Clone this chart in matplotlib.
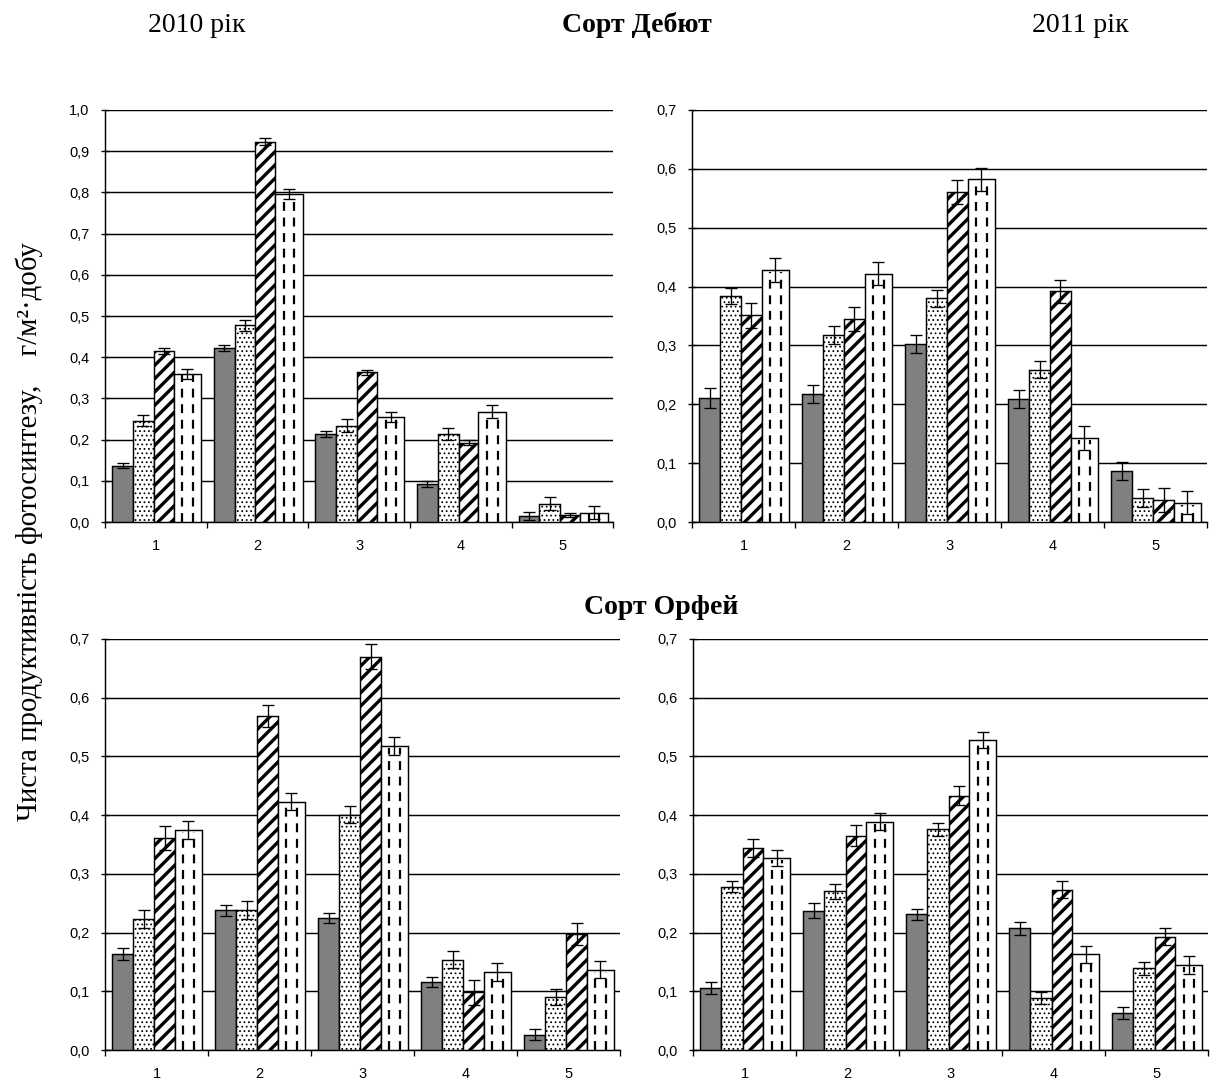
import matplotlib
matplotlib.use("Agg")
import matplotlib.pyplot as plt
import numpy as np
from matplotlib.ticker import FuncFormatter, FixedLocator

# Чиста продуктивність фотосинтезу, г/м2·добу (5 періодів, 4 варіанти)
groups = ["1", "2", "3", "4", "5"]

# Сорт Дебют, 2010 рік
deb_2010 = [
    [0.137, 0.423, 0.213, 0.092, 0.015],
    [0.246, 0.477, 0.234, 0.213, 0.044],
    [0.416, 0.923, 0.364, 0.193, 0.017],
    [0.360, 0.796, 0.255, 0.268, 0.023],
]
deb_2010_err = [
    [0.007, 0.007, 0.007, 0.007, 0.010],
    [0.014, 0.013, 0.015, 0.015, 0.016],
    [0.007, 0.008, 0.006, 0.005, 0.005],
    [0.012, 0.012, 0.012, 0.015, 0.015],
]

# Сорт Дебют, 2011 рік
deb_2011 = [
    [0.211, 0.217, 0.303, 0.209, 0.087],
    [0.384, 0.318, 0.380, 0.259, 0.041],
    [0.351, 0.345, 0.561, 0.392, 0.037],
    [0.428, 0.422, 0.582, 0.143, 0.033],
]
deb_2011_err = [
    [0.017, 0.015, 0.015, 0.015, 0.015],
    [0.014, 0.015, 0.015, 0.015, 0.015],
    [0.021, 0.020, 0.020, 0.020, 0.020],
    [0.020, 0.020, 0.020, 0.020, 0.020],
]

# Сорт Орфей, 2010 рік
orf_2010 = [
    [0.164, 0.238, 0.225, 0.116, 0.026],
    [0.223, 0.238, 0.401, 0.154, 0.090],
    [0.361, 0.569, 0.670, 0.098, 0.198],
    [0.375, 0.423, 0.518, 0.133, 0.137],
]
orf_2010_err = [
    [0.010, 0.009, 0.008, 0.008, 0.009],
    [0.016, 0.015, 0.015, 0.014, 0.014],
    [0.020, 0.019, 0.021, 0.021, 0.019],
    [0.015, 0.015, 0.015, 0.015, 0.015],
]

# Сорт Орфей, 2011 рік
orf_2011 = [
    [0.106, 0.237, 0.231, 0.207, 0.063],
    [0.278, 0.270, 0.376, 0.089, 0.139],
    [0.344, 0.365, 0.433, 0.273, 0.193],
    [0.327, 0.389, 0.528, 0.163, 0.145],
]
orf_2011_err = [
    [0.010, 0.013, 0.010, 0.011, 0.010],
    [0.009, 0.012, 0.011, 0.010, 0.011],
    [0.015, 0.018, 0.016, 0.014, 0.014],
    [0.014, 0.014, 0.014, 0.015, 0.015],
]

# зміщення лівого краю та ширина стовпчиків усередині групи
offsets = [0.07, 0.275, 0.48, 0.675]
widths = [0.205, 0.205, 0.195, 0.27]

comma = FuncFormatter(lambda v, _: f"{v:.1f}".replace(".", ","))


def draw_panel(ax, values, errors, ymax):
    x0 = np.arange(len(groups)) - 0.5
    for i, (vals, errs) in enumerate(zip(values, errors)):
        left = x0 + offsets[i]
        w = widths[i]
        centers = left + w / 2
        if i == 0:
            ax.bar(left, vals, w, align="edge", color="#808080",
                   edgecolor="black", linewidth=1.3, zorder=3)
        elif i == 1:
            with plt.rc_context({"hatch.linewidth": 0.9}):
                ax.bar(left, vals, w, align="edge", color="white",
                       edgecolor="black", linewidth=1.3, hatch="...", zorder=3)
        elif i == 2:
            with plt.rc_context({"hatch.linewidth": 3.0}):
                ax.bar(left, vals, w, align="edge", color="white",
                       edgecolor="black", linewidth=1.3, hatch="//", zorder=3)
        else:
            ax.bar(left, vals, w, align="edge", color="white",
                   edgecolor="black", linewidth=1.3, zorder=3)
            # вертикальні штрихи всередині стовпчиків
            for frac in (0.32, 0.70):
                ax.vlines(left + w * frac, 0, np.array(vals) - 0.004,
                          colors="black", linewidth=2.0,
                          linestyles=(0, (4, 3)), zorder=4)
        ax.errorbar(centers, vals, yerr=errs, fmt="none", ecolor="black",
                    elinewidth=1.2, capsize=5, capthick=1.2, zorder=5)

    ax.set_xlim(-0.5, len(groups) - 0.5)
    ax.set_ylim(0, ymax)
    ax.set_yticks(np.arange(0, ymax + 0.001, 0.1))
    ax.yaxis.set_major_formatter(comma)
    ax.yaxis.grid(True, color="black", linewidth=1.3, zorder=0)
    ax.set_axisbelow(True)

    # мітки між групами, підписи по центру груп
    ax.xaxis.set_major_locator(FixedLocator(x0.tolist() + [len(groups) - 0.5]))
    ax.xaxis.set_major_formatter(FuncFormatter(lambda v, _: ""))
    ax.set_xticks(np.arange(len(groups)), minor=True)
    ax.set_xticklabels(groups, minor=True)
    ax.tick_params(axis="x", which="major", direction="out", length=5,
                   width=1.2)
    ax.tick_params(axis="x", which="minor", length=0, pad=15, labelsize=13)
    ax.tick_params(axis="y", direction="inout", length=8, width=1.2, pad=10,
                   labelsize=13)

    for side in ("top", "right"):
        ax.spines[side].set_visible(False)
    for side in ("left", "bottom"):
        ax.spines[side].set_linewidth(1.3)


plt.rcParams["font.family"] = ["Liberation Sans", "DejaVu Sans"]

fig = plt.figure(figsize=(1217 / 80, 1088 / 80), dpi=80)

ax1 = fig.add_axes([0.0863, 0.5202, 0.4175, 0.3787])
ax2 = fig.add_axes([0.5686, 0.5202, 0.4232, 0.3787])
ax3 = fig.add_axes([0.0863, 0.0349, 0.4232, 0.3778])
ax4 = fig.add_axes([0.5695, 0.0349, 0.4232, 0.3778])

draw_panel(ax1, deb_2010, deb_2010_err, 1.0)
draw_panel(ax2, deb_2011, deb_2011_err, 0.7)
draw_panel(ax3, orf_2010, orf_2010_err, 0.7)
draw_panel(ax4, orf_2011, orf_2011_err, 0.7)

serif = ["Liberation Serif", "DejaVu Serif"]
fig.text(0.162, 0.977, "2010 рік", ha="center", va="center",
         fontsize=25, family=serif)
fig.text(0.523, 0.977, "Сорт Дебют", ha="center", va="center",
         fontsize=25, family=serif, fontweight="bold")
fig.text(0.888, 0.977, "2011 рік", ha="center", va="center",
         fontsize=25, family=serif)
fig.text(0.543, 0.442, "Сорт Орфей", ha="center", va="center",
         fontsize=25, family=serif, fontweight="bold")
fig.text(0.024, 0.511, "Чиста продуктивність фотосинтезу,    г/м²·добу",
         rotation=90, ha="center", va="center", fontsize=26, family=serif)

fig.savefig("out.png", dpi=80)
